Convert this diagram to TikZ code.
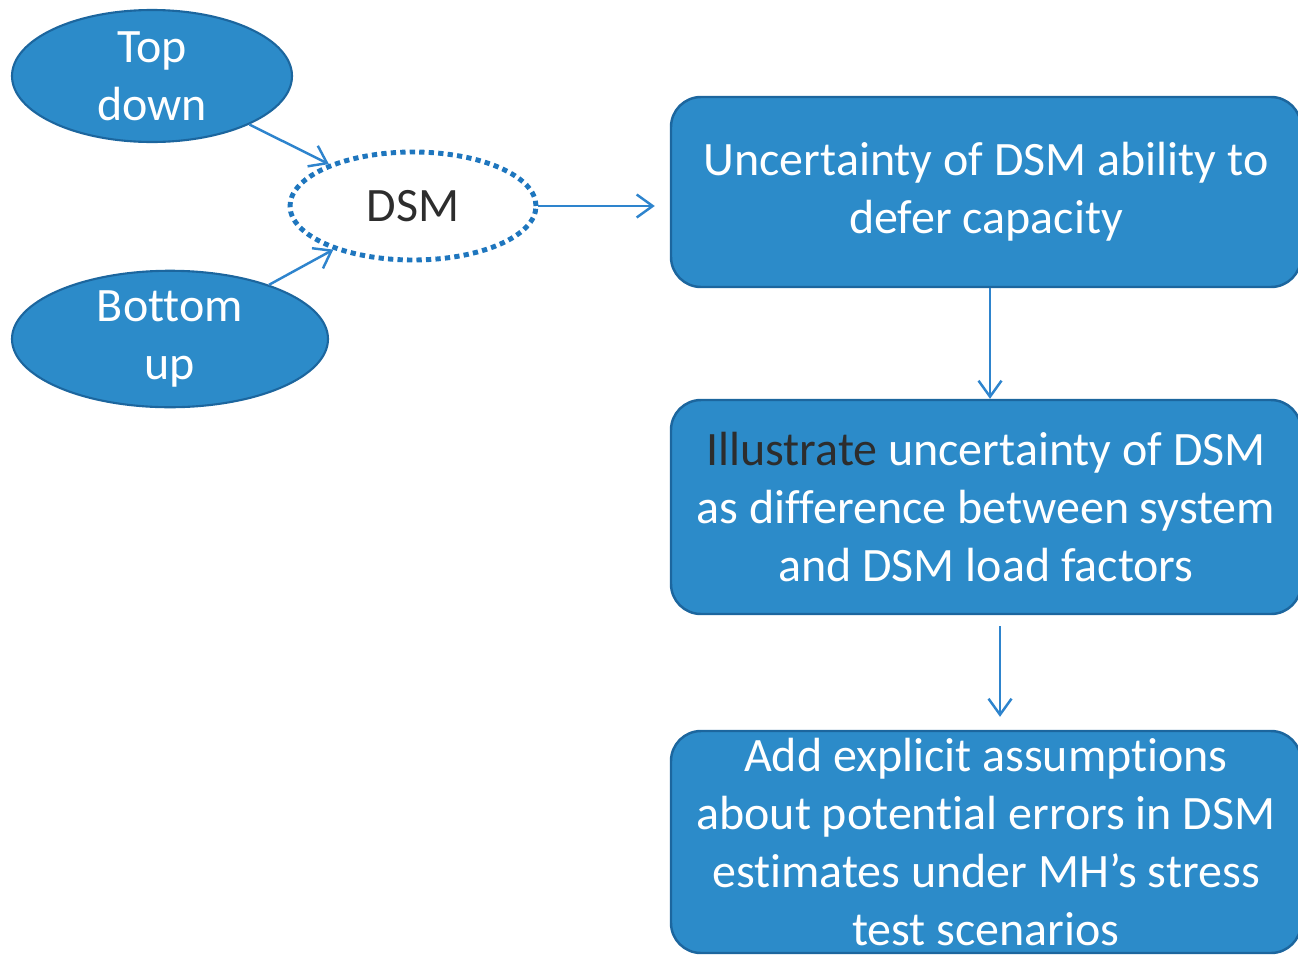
\documentclass[tikz,border=0pt]{standalone}
\usepackage{fontspec}
\setmainfont{Carlito}[Ligatures=NoCommon]
\usetikzlibrary{arrows.meta,shapes.geometric}

\definecolor{boxblue}{RGB}{44,139,201}
\definecolor{edgeblue}{RGB}{28,102,158}
\definecolor{arrblue}{RGB}{46,132,205}
\definecolor{dotblue}{RGB}{30,118,190}
\definecolor{darktext}{RGB}{45,45,45}

\tikzset{
  bubble/.style={shape=ellipse,fill=boxblue,draw=edgeblue,line width=1.2pt,
    text=white,align=center,inner sep=0pt},
  stepbox/.style={shape=rectangle,rounded corners=0.6cm,fill=boxblue,draw=edgeblue,
    line width=1.4pt,text=white,align=center,minimum width=12.6cm,inner sep=0pt},
  arr/.style={->,draw=arrblue,line width=1.4pt}
}

\begin{document}
\begin{tikzpicture}[>={Straight Barb[length=0.32cm,width=0.46cm]},
    font=\fontsize{27.3}{33}\selectfont]
					\useasboundingbox (0,0) rectangle (25.96,-19.08);
					\node (topdown) [bubble,minimum width=5.6cm,minimum height=2.64cm] at (3.04,-1.52) {Top\\down};
					\node (bottomup) [bubble,minimum width=6.32cm,minimum height=2.68cm] at (3.4,-6.78) {Bottom\\up};
					\node (dsm) [shape=ellipse,draw=dotblue,line width=2.8pt,dash pattern=on 3pt off 2.4pt,
						minimum width=4.92cm,minimum height=2.16cm,text=darktext] at (8.26,-4.12) {DSM};
					\node (first) [stepbox,minimum height=3.8cm] at (19.72,-3.84) {Uncertainty of DSM ability to\\defer capacity};
					\node (second) [stepbox,minimum height=4.28cm] at (19.72,-10.14) {\textcolor{darktext}{Illustrate} uncertainty of DSM\\as difference between system\\and DSM load factors};
					\node (third) [stepbox,minimum height=4.44cm] at (19.72,-16.84) {Add explicit assumptions\\about potential errors in DSM\\estimates under MH’s stress\\test scenarios};

					\draw[arr] (topdown) -- (dsm);
					\draw[arr] (bottomup) -- (dsm);
					\draw[arr,shorten >=0.3cm] (dsm) -- (dsm -| first.west);
					\draw[arr] ([xshift=0.08cm]first.south) -- ([xshift=0.08cm]second.north);
					\draw[arr,shorten <=0.22cm,shorten >=0.26cm] ([xshift=0.28cm]second.south) -- ([xshift=0.28cm]third.north);
				\end{tikzpicture}
\end{document}
